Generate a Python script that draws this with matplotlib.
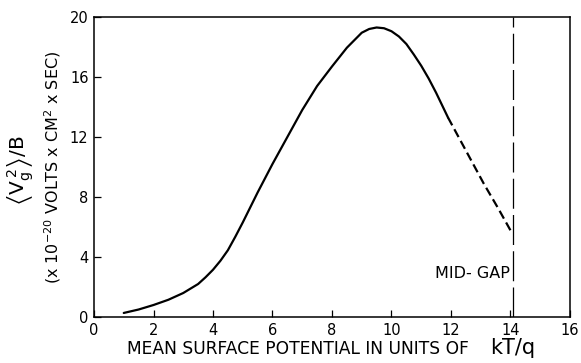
import numpy as np
import matplotlib
matplotlib.use("Agg")
import matplotlib.pyplot as plt

plt.rcParams['font.family'] = ['DejaVu Sans']
plt.rcParams['mathtext.default'] = 'regular'

# Measured curve (solid part), potential in kT/q vs <Vg^2>/B
x_solid = [1.0, 1.5, 2.0, 2.5, 3.0, 3.5, 3.75, 4.0, 4.25, 4.5, 4.75, 5.0, 5.25, 5.5,
           5.75, 6.0, 6.5, 7.0, 7.5, 8.0, 8.5, 9.0, 9.25, 9.5, 9.75, 10.0, 10.25,
           10.5, 10.75, 11.0, 11.25, 11.5, 11.9]
y_solid = [0.27, 0.5, 0.8, 1.15, 1.6, 2.2, 2.65, 3.15, 3.75, 4.45, 5.35, 6.3, 7.3, 8.3,
           9.25, 10.2, 12.0, 13.8, 15.4, 16.7, 17.95, 18.95, 19.2, 19.3, 19.25, 19.05, 18.7,
           18.2, 17.5, 16.75, 15.9, 14.95, 13.3]

# Extrapolated part (dashed) towards mid-gap
x_dash = [11.9, 12.5, 13.1, 13.6, 14.05]
y_dash = [13.3, 11.1, 8.9, 7.2, 5.6]

mid_gap = 14.1
x_ticks = [0, 2, 4, 6, 8, 10, 12, 14, 16]
y_ticks = [0, 4, 8, 12, 16, 20]

fig = plt.figure(figsize=(5.81, 3.63), dpi=100)
ax = fig.add_axes([0.1618, 0.1267, 0.8192, 0.8265])

ax.plot(x_solid, y_solid, color='black', lw=1.6, solid_joinstyle='round',
        solid_capstyle='round')
ax.plot(x_dash, y_dash, color='black', lw=1.6, dashes=(4, 2))
ax.plot([mid_gap, mid_gap], [0, 20], color='black', lw=0.9, dashes=(24, 5))
ax.text(mid_gap - 0.12, 2.9, 'MID- GAP', ha='right', va='center', fontsize=11.5)

ax.set_xlim(0, 16)
ax.set_ylim(0, 20)
ax.set_xticks(x_ticks)
ax.set_yticks(y_ticks)
ax.tick_params(direction='in', length=5, width=0.9, labelsize=10.5, pad=4)
for s in ax.spines.values():
    s.set_linewidth(1.1)

# axis labels
fig.text(0.2186, 0.025, 'MEAN SURFACE POTENTIAL IN UNITS OF', ha='left', va='baseline',
         fontsize=12.3)
fig.text(0.843, 0.025, 'kT/q', ha='left', va='baseline', fontsize=15)

fig.text(0.036, 0.53, r'$\left\langle V_g^{\,2}\right\rangle$/B', rotation=90,
         ha='center', va='center', fontsize=14.5)
fig.text(0.09, 0.54, r'(x 10$^{-20}$ VOLTS x CM$^2$ x SEC)', rotation=90,
         ha='center', va='center', fontsize=11.5)

fig.savefig('out.png', dpi=100)
